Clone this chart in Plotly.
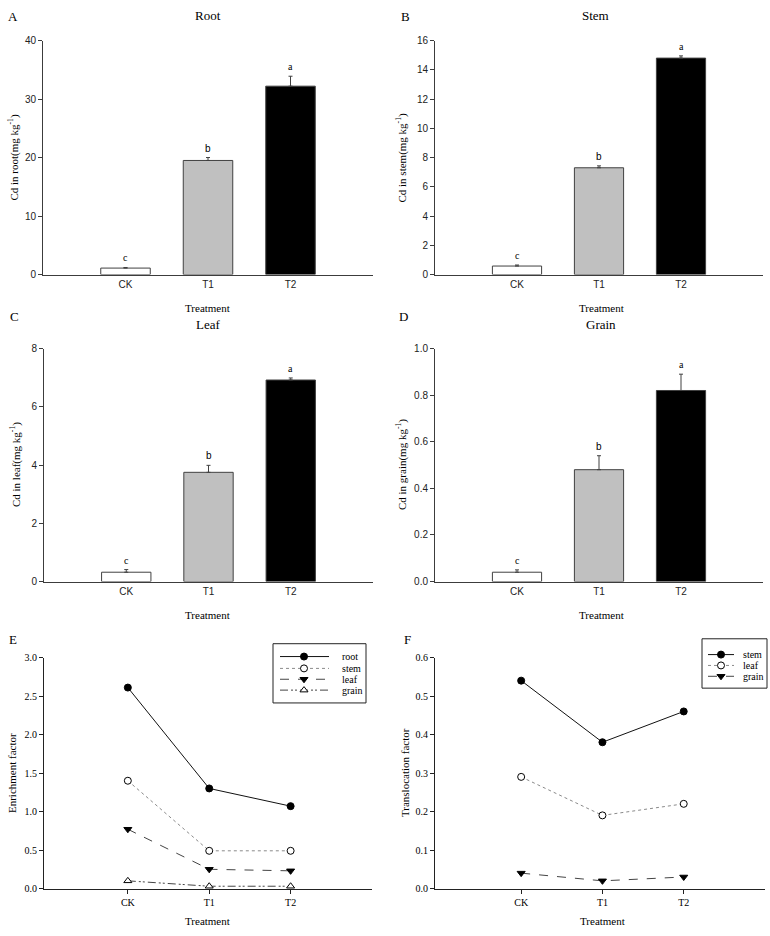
import plotly.graph_objects as go

# ---------------- data ----------------
categories = ["CK", "T1", "T2"]
sig_letters = ["c", "b", "a"]

root_cd = [1.1, 19.5, 32.2]
root_err = [0.1, 0.5, 1.7]
stem_cd = [0.58, 7.3, 14.8]
stem_err = [0.07, 0.13, 0.15]
leaf_cd = [0.32, 3.75, 6.92]
leaf_err = [0.09, 0.24, 0.07]
grain_cd = [0.04, 0.48, 0.82]
grain_err = [0.01, 0.06, 0.07]

ef_names = ["root", "stem", "leaf", "grain"]
ef_root = [2.61, 1.30, 1.07]
ef_stem = [1.40, 0.49, 0.49]
ef_leaf = [0.77, 0.25, 0.23]
ef_grain = [0.10, 0.03, 0.03]

tf_names = ["stem", "leaf", "grain"]
tf_stem = [0.54, 0.38, 0.46]
tf_leaf = [0.29, 0.19, 0.22]
tf_grain = [0.04, 0.02, 0.03]

# ---------------- styling ----------------
W, H = 770, 936
SERIF = "Liberation Serif"
SANS = "Liberation Sans"
AX = "#3c3c3c"
TXT = "#000000"
bar_colors = ["white", "#c0c0c0", "black"]


def px(p):
    return p / W


def py(p):
    return 1 - p / H


def ax_name(kind, i):
    return kind + ("" if i == 1 else str(i))


fig = go.Figure()
layout = dict(
    width=W, height=H, margin=dict(l=0, r=0, t=0, b=0),
    paper_bgcolor="white", plot_bgcolor="rgba(0,0,0,0)",
    showlegend=False, annotations=[], shapes=[],
)


def add_text(x, y, text, size, family=SERIF, angle=0, **kw):
    layout["annotations"].append(dict(
        x=px(x), y=py(y), xref="paper", yref="paper", text=text,
        showarrow=False, textangle=angle, xanchor="center", yanchor="middle",
        font=dict(family=family, size=size, color=TXT), **kw))


bar_panels = [
    (root_cd, root_err, "Root", "A", "Cd in root(mg kg<sup>-1</sup>)", [0, 40], 10, None,
     (43, 373, 35, 272), 208, 13, 14, 208, 10, 11, 306),
    (stem_cd, stem_err, "Stem", "B", "Cd in stem(mg kg<sup>-1</sup>)", [0, 16], 2, None,
     (435, 763, 35, 272), 595, 405, 402, 601, 10, 11, 306),
    (leaf_cd, leaf_err, "Leaf", "C", "Cd in leaf(mg kg<sup>-1</sup>)", [0, 8], 2, None,
     (44, 373, 347, 583), 208, 14, 15, 208, 323, 315, 617),
    (grain_cd, grain_err, "Grain", "D", "Cd in grain(mg kg<sup>-1</sup>)", [0, 1.0], 0.2, ".1f",
     (435, 763, 347, 583), 601, 404, 401, 601, 323, 315, 617),
]

for i, (vals, errs, title, letter, ytitle, yr, dt, fmt, box, tx, lx, ytx, xtx, ty, ly, xty) in enumerate(bar_panels, start=1):
    x0, x1, y0, y1 = box
    xa, ya = ax_name("x", i), ax_name("y", i)
    fig.add_trace(go.Bar(
        x=categories, y=vals, width=0.6,
        marker=dict(color=bar_colors, line=dict(color="#404040", width=1)),
        error_y=dict(type="data", array=errs, arrayminus=[0] * len(errs), symmetric=False,
                     color="#404040", thickness=1, width=2),
        xaxis=xa, yaxis=ya, showlegend=False, hoverinfo="skip"))
    layout[ax_name("xaxis", i)] = dict(
        domain=[px(x0), px(x1)], anchor=ya, type="category", range=[-1, 3],
        showline=True, linecolor=AX, linewidth=1, ticks="", showgrid=False, zeroline=False,
        tickfont=dict(family=SANS, size=10, color="#222222"))
    yax = dict(
        domain=[py(y1), py(y0)], anchor=xa, range=yr, tick0=0, dtick=dt,
        showline=True, linecolor=AX, linewidth=1, ticks="outside", ticklen=4, tickcolor=AX,
        showgrid=False, zeroline=False,
        tickfont=dict(family=SANS, size=10, color="#222222"))
    if fmt:
        yax["tickformat"] = fmt
    layout[ax_name("yaxis", i)] = yax
    for j, c in enumerate(categories):
        layout["annotations"].append(dict(
            x=c, y=vals[j] + errs[j], xref=xa, yref=ya, text=sig_letters[j],
            showarrow=False, yanchor="bottom", yshift=2,
            font=dict(family=SANS if sig_letters[j] == "b" else SERIF, size=10, color=TXT)))
    add_text(tx, ty, title, 13)
    add_text(lx, ly, letter, 13)
    add_text(ytx, (y0 + y1) / 2, ytitle, 11, angle=-90)
    add_text(xtx, xty, "Treatment", 11)

ef_series = [ef_root, ef_stem, ef_leaf, ef_grain]
ef_styles = [
    dict(dash="solid", color="#111111", symbol="circle", fill="black"),
    dict(dash="dot", color="#8a8a8a", symbol="circle", fill="white"),
    dict(dash="dash", color="#444444", symbol="triangle-down", fill="black"),
    dict(dash="8px,3px,2px,2px,2px,3px", color="#444444", symbol="triangle-up", fill="white"),
]
tf_series = [tf_stem, tf_leaf, tf_grain]
tf_styles = [
    dict(dash="solid", color="#111111", symbol="circle", fill="black"),
    dict(dash="dot", color="#8a8a8a", symbol="circle", fill="white"),
    dict(dash="dash", color="#444444", symbol="triangle-down", fill="black"),
]

line_panels = [
    (5, ef_series, ef_names, ef_styles, "E", "Enrichment factor", [0, 3.0], 0.5,
     (44, 372, 660, 894), [-1.03, 3.0], 13, 12, 208, 642,
     (273, 366, 646, 706), (280, 304, 329, 340), [659, 671, 682, 693]),
    (6, tf_series, tf_names, tf_styles, "F", "Translocation factor", [0, 0.6], 0.1,
     (435, 765, 660, 894), [-1.06, 3.0], 408, 405, 602, 642,
     (702, 767, 641, 691), (708, 721, 734, 741), [657, 668, 679]),
]

layout["xaxis7"] = dict(domain=[0, 1], range=[0, W], visible=False, anchor="y7", fixedrange=True)
layout["yaxis7"] = dict(domain=[0, 1], range=[H, 0], visible=False, anchor="x7", fixedrange=True)

for (i, series, names, styles, letter, ytitle, yr, dt, box, xr, lx, ytx, xtx, ly,
     lbox, lkey, lrows) in line_panels:
    x0, x1, y0, y1 = box
    xa, ya = ax_name("x", i), ax_name("y", i)
    for vals, name, st in zip(series, names, styles):
        fig.add_trace(go.Scatter(
            x=categories, y=vals, mode="lines+markers", name=name,
            line=dict(color=st["color"], width=1, dash=st["dash"]),
            marker=dict(symbol=st["symbol"], size=7, color=st["fill"],
                        line=dict(color="black", width=1)),
            xaxis=xa, yaxis=ya, showlegend=False, cliponaxis=False, hoverinfo="skip"))
    layout[ax_name("xaxis", i)] = dict(
        domain=[px(x0), px(x1)], anchor=ya, type="category", range=xr,
        showline=True, linecolor="#222222", linewidth=1, ticks="outside", ticklen=4,
        tickcolor="#222222", showgrid=False, zeroline=False,
        tickfont=dict(family=SERIF, size=10, color=TXT))
    layout[ax_name("yaxis", i)] = dict(
        domain=[py(y1), py(y0)], anchor=xa, range=yr, tick0=0, dtick=dt, tickformat=".1f",
        showline=True, linecolor="#222222", linewidth=1, ticks="outside", ticklen=4,
        tickcolor="#222222", showgrid=False, zeroline=False,
        tickfont=dict(family=SERIF, size=10, color=TXT))
    add_text(lx, ly, letter, 13)
    add_text(ytx, (y0 + y1) / 2, ytitle, 11, angle=-90)
    add_text(xtx, 927, "Treatment", 11)

    bx0, bx1, by0, by1 = lbox
    layout["shapes"].append(dict(type="rect", xref="paper", yref="paper",
                                 x0=px(bx0), x1=px(bx1), y0=py(by1), y1=py(by0),
                                 line=dict(color="#222222", width=1), fillcolor="white", layer="below"))
    kx0, kxm, kx1, tx0 = lkey
    for name, st, ry in zip(names, styles, lrows):
        fig.add_trace(go.Scatter(
            x=[kx0, kx1], y=[ry, ry], mode="lines",
            line=dict(color=st["color"], width=1, dash=st["dash"]),
            xaxis="x7", yaxis="y7", showlegend=False, hoverinfo="skip"))
        fig.add_trace(go.Scatter(
            x=[kxm], y=[ry], mode="markers",
            marker=dict(symbol=st["symbol"], size=7, color=st["fill"],
                        line=dict(color="black", width=1)),
            xaxis="x7", yaxis="y7", showlegend=False, hoverinfo="skip", cliponaxis=False))
        layout["annotations"].append(dict(
            x=px(tx0), y=py(ry), xref="paper", yref="paper", text=name, showarrow=False,
            xanchor="left", yanchor="middle", font=dict(family=SERIF, size=10, color=TXT)))

fig.update_layout(**layout)
fig.write_html("out.html")
